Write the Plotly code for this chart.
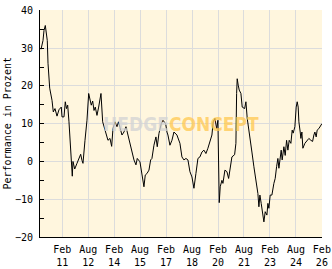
import plotly.graph_objects as go

# time in decimal years, performance in percent
years = [2009.858, 2009.973, 2010.031, 2010.106, 2010.221, 2010.262, 2010.360, 2010.435, 2010.493,
         2010.568, 2010.666, 2010.782, 2010.897, 2011.030, 2011.070, 2011.186, 2011.261, 2011.330,
         2011.399, 2011.474, 2011.607, 2011.665, 2011.705, 2011.804, 2011.936, 2012.052, 2012.150,
         2012.225, 2012.283, 2012.399, 2012.514, 2012.612, 2012.762, 2012.843, 2012.920, 2012.993,
         2013.091, 2013.189, 2013.322, 2013.420, 2013.495, 2013.611, 2013.726, 2013.842, 2013.940,
         2014.015, 2014.131, 2014.246, 2014.333, 2014.420, 2014.535, 2014.650, 2014.766, 2014.881,
         2014.997, 2015.112, 2015.228, 2015.343, 2015.418, 2015.574, 2015.689, 2015.805, 2015.880,
         2015.978, 2016.094, 2016.192, 2016.267, 2016.382, 2016.498, 2016.573, 2016.671, 2016.804,
         2016.902, 2017.058, 2017.133, 2017.191, 2017.306, 2017.422, 2017.537, 2017.710, 2017.884,
         2017.999, 2018.115, 2018.230, 2018.346, 2018.461, 2018.577, 2018.692, 2018.807, 2018.923,
         2019.038, 2019.154, 2019.269, 2019.385, 2019.500, 2019.616, 2019.731, 2019.806, 2019.905,
         2020.003, 2020.078, 2020.153, 2020.211, 2020.309, 2020.367, 2020.482, 2020.597, 2020.696,
         2020.771, 2020.886, 2021.042, 2021.117, 2021.158, 2021.192, 2021.250, 2021.308, 2021.406,
         2021.481, 2021.620, 2021.695, 2021.770, 2021.827, 2021.925, 2022.041, 2022.156, 2022.272,
         2022.387, 2022.445, 2022.503, 2022.578, 2022.676, 2022.734, 2022.809, 2022.907, 2022.965,
         2023.022, 2023.097, 2023.196, 2023.311, 2023.386, 2023.467, 2023.542, 2023.600, 2023.675,
         2023.733, 2023.790, 2023.889, 2023.964, 2024.044, 2024.120, 2024.195, 2024.293, 2024.368,
         2024.426, 2024.524, 2024.599, 2024.657, 2024.714, 2024.755, 2024.830, 2024.870, 2024.928,
         2024.986, 2025.101, 2025.217, 2025.332, 2025.448, 2025.546, 2025.621, 2025.679, 2025.754,
         2025.811, 2025.909, 2025.984, 2026.042, 2026.083]

performance = [29.7, 32.0, 34.7, 36.0, 32.0, 26.0, 19.4, 17.5, 16.2,
               13.1, 14.0, 12.0, 13.7, 14.4, 11.8, 11.8, 15.8, 14.0,
               14.9, 10.5, -1.4, -3.9, 0.0, -2.0, -0.5, 0.9, 1.9,
               0.3, -0.5, 5.6, 10.9, 18.0, 14.9, 16.0, 13.5, 14.4,
               12.2, 14.4, 18.0, 10.5, 9.2, 7.8, 5.6, 6.1, 4.0,
               8.7, 10.5, 9.2, 10.5, 9.0, 7.0, 7.8, 9.2, 7.0,
               4.8, 3.0, 0.4, -0.9, 0.8, -0.1, -3.2, -6.7, -3.6,
               -3.2, -2.3, 0.4, 0.8, 4.3, 6.5, 3.9, 7.4, 10.0,
               10.9, 10.0, 7.8, 7.0, 4.3, 5.6, 7.8, 7.0, 4.8,
               1.2, 0.4, 0.8, 0.4, -2.7, -4.1, -7.1, -3.2, 0.8,
               1.2, 2.5, 3.0, 2.1, 3.5, 5.3, 7.0, 10.5, 11.4,
               8.7, 10.9, -10.9, -6.7, -5.0, -5.8, -2.3, -2.7, -4.5,
               -1.8, 1.2, 1.8, 4.8, 18.0, 21.9, 20.2, 18.9, 18.0,
               14.4, 14.0, 15.8, 11.4, 9.2, 5.6, 2.5, -1.4, -5.0,
               -8.5, -12.0, -8.9, -11.1, -14.6, -16.0, -13.3, -14.2, -11.1,
               -12.4, -8.9, -8.9, -5.8, -4.5, -1.4, 0.8, -1.8, 1.2,
               3.0, 0.4, 3.9, 1.6, 5.6, 3.0, 5.6, 4.8, 8.3,
               7.5, 9.2, 14.4, 15.8, 14.4, 10.5, 7.8, 6.1, 7.8,
               3.5, 4.8, 5.6, 6.1, 5.6, 5.3, 7.0, 7.8, 6.5,
               8.3, 8.7, 9.2, 9.6, 10.0]

tick_years = [2011.083, 2012.583, 2014.083, 2015.583, 2017.083, 2018.583,
              2020.083, 2021.583, 2023.083, 2024.583, 2026.083]
tick_labels = ["Feb<br>11", "Aug<br>12", "Feb<br>14", "Aug<br>15", "Feb<br>17", "Aug<br>18",
               "Feb<br>20", "Aug<br>21", "Feb<br>23", "Aug<br>24", "Feb<br>26"]

mono = "DejaVu Sans Mono"

fig = go.Figure()
fig.add_trace(go.Scatter(x=years, y=performance, mode="lines",
                         line=dict(color="black", width=1), hoverinfo="skip"))

fig.update_layout(
    width=332, height=269,
    margin=dict(l=40, r=10, t=10, b=32),
    paper_bgcolor="white", plot_bgcolor="#fff6de",
    showlegend=False,
    font=dict(family=mono, size=10, color="black"),
)
fig.update_xaxes(
    range=[2009.80, 2026.09], tickvals=tick_years, ticktext=tick_labels,
    showgrid=True, gridcolor="#dcdcdc", gridwidth=1,
    showline=True, linecolor="black", linewidth=1,
    ticks="", zeroline=False, tickfont=dict(family=mono, size=10),
    ticklabelstandoff=3, automargin=False,
)
fig.update_yaxes(
    range=[-20, 40.1], tickvals=[-20, -10, 0, 10, 20, 30, 40],
    showgrid=True, gridcolor="#dcdcdc", gridwidth=1,
    showline=True, linecolor="black", linewidth=1,
    ticks="inside", ticklen=4, tickcolor="black", tickwidth=1,
    minor=dict(tickvals=[-15, -5, 5, 15, 25, 35], ticks="inside", ticklen=4,
               tickcolor="black", showgrid=False),
    zeroline=False, tickfont=dict(family=mono, size=10), ticklabelstandoff=4,
    automargin=False,
)
fig.add_annotation(
    text="Performance in Prozent", textangle=-90, showarrow=False,
    xref="paper", yref="paper", x=-0.117, y=0.5, xanchor="center", yanchor="middle",
    font=dict(family=mono, size=10, color="black"),
)
fig.add_annotation(
    text="<b><span style='color:rgba(212,212,212,0.8)'>HEDGE</span>"
         "<span style='color:rgba(255,200,80,0.75)'>CONCEPT</span></b>",
    showarrow=False, xref="paper", yref="paper",
    x=(181 - 40) / 282, y=(237 - 124) / 227, xanchor="center", yanchor="middle",
    font=dict(family="DejaVu Sans Condensed", size=19),
)
fig.write_html("out.html")
